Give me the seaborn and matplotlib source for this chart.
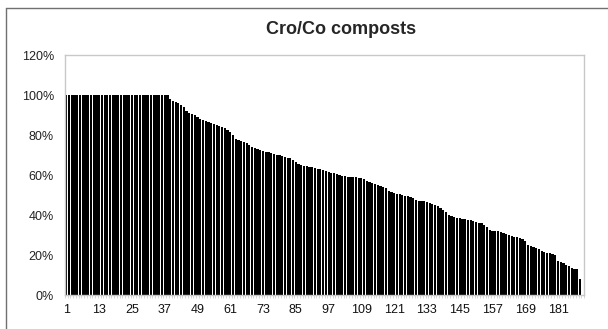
import numpy as np
import pandas as pd
import seaborn as sns
import matplotlib.pyplot as plt
from matplotlib.lines import Line2D
from matplotlib.ticker import PercentFormatter

# Ratio per sample (%), sorted descending
plateau = [100.0] * 38
tail = [
    98, 97, 96.5, 96, 95, 94, 92, 91, 90.5, 90,
    89, 88, 87.5, 87, 86.5, 86, 85.5, 85, 84.5, 84,
    83.5, 82.5, 81.5, 80, 78, 77.5, 77, 76.5, 76, 75,
    74, 73.5, 73, 72.5, 72, 71.7, 71.5, 71, 70.5, 70.2,
    70, 69.5, 69, 68.7, 68.3, 67.5, 66.5, 65.5, 65, 64.5,
    64.3, 64, 63.8, 63.5, 63.2, 62.8, 62.5, 62, 61.5, 61,
    60.8, 60.3, 59.8, 59.5, 59.3, 59.2, 59, 58.9, 58.8, 58.7,
    58.5, 58, 57.2, 56.7, 56, 55.5, 55, 54.5, 54, 53.3,
    52, 51.5, 51, 50.7, 50.3, 50, 49.7, 49.3, 49, 48.5,
    47.5, 47.2, 47, 46.8, 46.5, 46, 45.5, 45, 44.5, 43.5,
    42.5, 41.5, 40, 39.5, 39, 38.5, 38.3, 38, 37.8, 37.5,
    37.3, 37, 36.5, 36.2, 35.8, 35, 34, 32.5, 32, 32,
    31.8, 31.5, 31, 30.5, 30, 29.5, 29, 28.8, 28.5, 28,
    27, 25, 24.5, 24, 23.5, 23, 22, 21.5, 21, 20.8,
    20.5, 20, 17, 16.5, 16, 15, 14.5, 13.5, 13, 13,
    8,
]
values = plateau + tail
samples = list(range(1, len(values) + 1))
tick_labels = [str(s) for s in samples if (s - 1) % 12 == 0]
n_slots = 190

df = pd.DataFrame({"sample": samples, "ratio": values})

sns.set_style("white")
plt.rcParams["font.family"] = ["Liberation Sans", "DejaVu Sans"]

fig = plt.figure(figsize=(6.08, 3.29), dpi=100)
ax = fig.add_axes([65 / 608, 34 / 329, 519 / 608, 240 / 329])

sns.barplot(data=df, x="sample", y="ratio", color="black", saturation=1,
            width=0.8, linewidth=0, ax=ax)

ax.set_xlim(-0.5, n_slots - 0.5)
ax.set_ylim(0, 120)
ax.set_yticks(range(0, 121, 20))
ax.yaxis.set_major_formatter(PercentFormatter(decimals=0))
ax.set_xticks([samples.index(int(t)) for t in tick_labels])
ax.set_xticklabels(tick_labels)
ax.set_xticks(np.arange(-0.5, n_slots, 1), minor=True)
ax.tick_params(axis="x", which="major", length=0, pad=6.5, labelsize=9,
               labelcolor="#111111")
ax.tick_params(axis="x", which="minor", length=2, width=0.5,
               color="#c8c8c8", bottom=True)
ax.tick_params(axis="y", length=0, pad=8, labelsize=9, labelcolor="#222222")
ax.set_xlabel("")
ax.set_ylabel("")
for s in ax.spines.values():
    s.set_visible(True)
    s.set_color("#c8c8c8")
    s.set_linewidth(1)

fig.text(341 / 608, 1 - 30 / 329, "Cro/Co composts", ha="center",
         va="center", fontsize=13, fontweight="bold")

# outer chart frame (left and top edges visible)
fig.add_artist(Line2D([6 / 608, 6 / 608], [0, 1 - 8 / 329],
                      transform=fig.transFigure, color="#707070", lw=1))
fig.add_artist(Line2D([6 / 608, 1], [1 - 8 / 329, 1 - 8 / 329],
                      transform=fig.transFigure, color="#707070", lw=1))

fig.savefig("out.png", dpi=100)
